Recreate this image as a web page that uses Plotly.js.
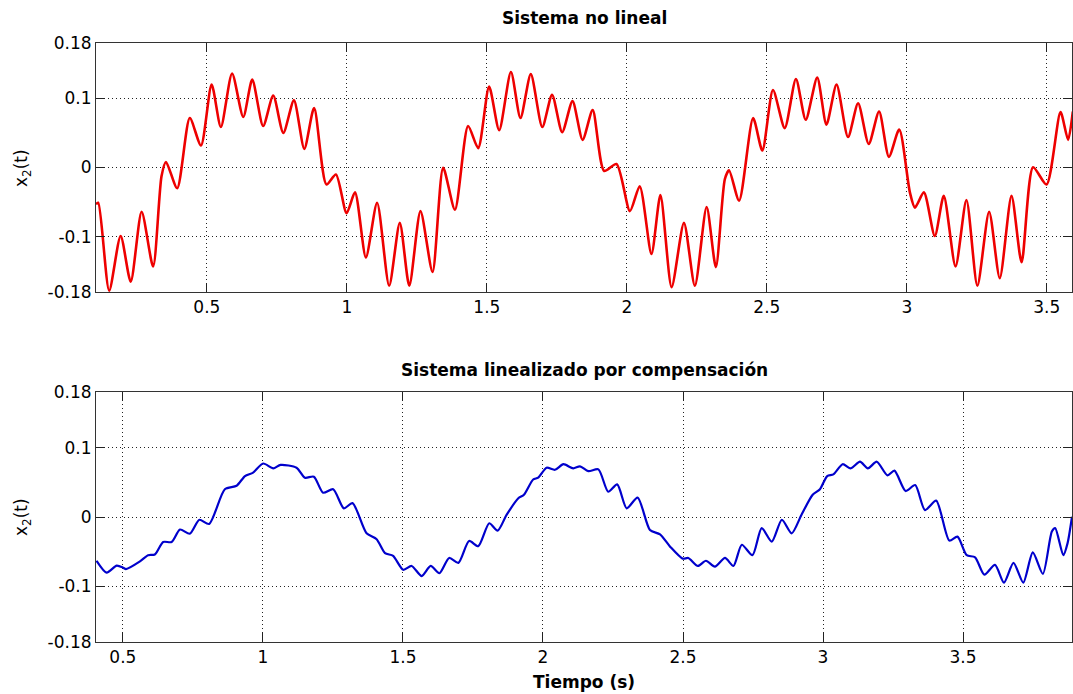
<!DOCTYPE html>
<html>
<head>
<meta charset="utf-8">
<script src="https://cdn.plot.ly/plotly-3.0.1.min.js"></script>
<style>html,body{margin:0;padding:0;background:#fff;}#chart{width:1073px;height:694px;}</style>
</head>
<body>
<div id="chart"></div>
<script>
// Top subplot: nonlinear system (red)
var t1 = [0.104,0.112,0.151,0.192,0.228,0.267,0.308,0.338,0.354,0.394,0.439,0.479,0.517,0.550,0.590,0.630,0.662,0.701,0.737,0.773,0.811,0.848,0.883,0.927,0.961,0.999,1.029,1.068,1.108,1.151,1.189,1.223,1.263,1.306,1.344,1.386,1.433,1.469,1.508,1.544,1.586,1.620,1.657,1.698,1.733,1.769,1.806,1.842,1.878,1.919,1.963,2.011,2.046,2.088,2.120,2.160,2.204,2.243,2.285,2.318,2.350,2.365,2.401,2.451,2.484,2.522,2.564,2.604,2.639,2.680,2.713,2.749,2.790,2.826,2.864,2.901,2.936,2.973,3.011,3.029,3.061,3.100,3.132,3.174,3.213,3.252,3.294,3.332,3.374,3.410,3.451,3.499,3.549,3.576,3.593];
var v1 = [-0.053,-0.051,-0.178,-0.099,-0.165,-0.064,-0.143,-0.0125,0.008,-0.030,0.0715,0.0317,0.120,0.0585,0.136,0.073,0.127,0.060,0.104,0.050,0.097,0.027,0.086,-0.0245,-0.010,-0.066,-0.036,-0.130,-0.051,-0.171,-0.080,-0.171,-0.063,-0.151,-0.0005,-0.061,0.060,0.028,0.117,0.054,0.138,0.0715,0.135,0.0585,0.105,0.051,0.096,0.040,0.083,-0.005,0.005,-0.063,-0.027,-0.125,-0.040,-0.173,-0.080,-0.171,-0.057,-0.144,-0.017,-0.004,-0.048,0.0715,0.0245,0.112,0.057,0.128,0.069,0.130,0.062,0.120,0.044,0.093,0.034,0.081,0.0153,0.055,-0.036,-0.058,-0.036,-0.099,-0.041,-0.143,-0.047,-0.171,-0.064,-0.160,-0.041,-0.137,0.0004,-0.0245,0.080,0.040,0.081];

// Bottom subplot: linearised system (blue)
var t2 = [0.406,0.442,0.478,0.501,0.511,0.561,0.590,0.614,0.644,0.674,0.704,0.739,0.773,0.808,0.864,0.906,0.936,0.965,1.001,1.037,1.063,1.120,1.150,1.182,1.215,1.251,1.289,1.320,1.370,1.406,1.436,1.465,1.501,1.531,1.567,1.599,1.630,1.665,1.698,1.736,1.769,1.808,1.838,1.870,1.912,1.932,1.965,1.983,2.013,2.043,2.073,2.108,2.132,2.162,2.198,2.233,2.265,2.299,2.338,2.382,2.418,2.454,2.499,2.519,2.553,2.582,2.614,2.650,2.680,2.710,2.748,2.781,2.817,2.853,2.888,2.924,2.963,2.989,3.015,3.037,3.070,3.099,3.132,3.160,3.192,3.230,3.255,3.295,3.329,3.364,3.404,3.451,3.480,3.513,3.543,3.576,3.614,3.646,3.680,3.715,3.749,3.785,3.817,3.829,3.858,3.873,3.889];
var v2 = [-0.063,-0.080,-0.070,-0.073,-0.075,-0.064,-0.055,-0.054,-0.036,-0.036,-0.018,-0.024,-0.004,-0.010,0.040,0.045,0.059,0.064,0.077,0.070,0.075,0.071,0.0566,0.058,0.035,0.040,0.0125,0.020,-0.0235,-0.032,-0.052,-0.056,-0.076,-0.0705,-0.085,-0.0705,-0.081,-0.059,-0.066,-0.0345,-0.042,-0.009,-0.0197,0.003,0.027,0.032,0.054,0.0566,0.071,0.068,0.076,0.070,0.073,0.066,0.0686,0.0364,0.047,0.0125,0.028,-0.0187,-0.025,-0.0427,-0.060,-0.059,-0.0705,-0.063,-0.0715,-0.059,-0.0705,-0.040,-0.055,-0.016,-0.0355,-0.004,-0.0235,0.004,0.032,0.040,0.059,0.0614,0.076,0.070,0.0796,0.070,0.0796,0.060,0.0667,0.0374,0.046,0.010,0.0235,-0.034,-0.0283,-0.055,-0.058,-0.083,-0.069,-0.0945,-0.066,-0.0945,-0.051,-0.082,-0.021,-0.016,-0.055,-0.038,0.0004];

var yTickVals = [-0.18,-0.1,0,0.1,0.18];
var yTickText = ['-0.18','-0.1','0','0.1','0.18'];
var xTickVals = [0.5,1,1.5,2,2.5,3,3.5];
var xTickText = ['0.5','1','1.5','2','2.5','3','3.5'];

var title1 = 'Sistema no lineal';
var title2 = 'Sistema linealizado por compensación';
var xLabel = 'Tiempo (s)';
var yLabel = 'x<sub>2</sub>(t)';

var H = 694;
function py(p){ return 1 - p / H; }

var FONT = 'DejaVu Sans, Verdana, sans-serif';

var traces = [
  {x: t1, y: v1, type: 'scatter', mode: 'lines', xaxis: 'x', yaxis: 'y',
   line: {color: '#ee0000', width: 2.6, shape: 'spline', smoothing: 0.7}, hoverinfo: 'skip'},
  {x: t2, y: v2, type: 'scatter', mode: 'lines', xaxis: 'x2', yaxis: 'y2',
   line: {color: '#0000cc', width: 2.2, shape: 'spline', smoothing: 0.7}, hoverinfo: 'skip'}
];

function xax(range, dom) {
  return {
    range: range, anchor: dom, tickvals: xTickVals, ticktext: xTickText,
    ticks: 'inside', ticklen: 9, tickwidth: 1, tickcolor: '#222',
    showline: true, linecolor: '#333', linewidth: 1, mirror: 'ticks',
    showgrid: true, gridcolor: '#222', griddash: '1px,3px', gridwidth: 1,
    zeroline: false, tickfont: {family: FONT, size: 17, color: '#000'}
  };
}
function yax(dom, anchor) {
  return {
    range: [-0.18, 0.18], domain: dom, anchor: anchor,
    tickvals: yTickVals, ticktext: yTickText,
    ticks: 'inside', ticklen: 9, tickwidth: 1, tickcolor: '#222',
    showline: true, linecolor: '#333', linewidth: 1, mirror: 'ticks',
    showgrid: true, gridcolor: '#222', griddash: '1px,3px', gridwidth: 1,
    zeroline: false, tickfont: {family: FONT, size: 17, color: '#000'}
  };
}

var xa1 = xax([0.104, 3.59], 'y'); xa1.domain = [0, 1];
var xa2 = xax([0.404, 3.889], 'y2'); xa2.domain = [0, 1];

var layout = {
  width: 1073, height: 694,
  margin: {l: 96, r: 1, t: 0, b: 0},
  paper_bgcolor: '#fff', plot_bgcolor: '#fff',
  showlegend: false,
  xaxis: xa1,
  yaxis: yax([py(292), py(43)], 'x'),
  xaxis2: xa2,
  yaxis2: yax([py(642), py(392)], 'x2'),
  annotations: [
    {text: title1, xref: 'paper', yref: 'paper', x: 0.5, y: py(18), showarrow: false,
     xanchor: 'center', yanchor: 'middle', font: {family: FONT, size: 17, color: '#000', weight: 'bold'}},
    {text: title2, xref: 'paper', yref: 'paper', x: 0.5, y: py(370), showarrow: false,
     xanchor: 'center', yanchor: 'middle', font: {family: FONT, size: 17, color: '#000', weight: 'bold'}},
    {text: xLabel, xref: 'paper', yref: 'paper', x: 0.5, y: py(682), showarrow: false,
     xanchor: 'center', yanchor: 'middle', font: {family: FONT, size: 17, color: '#000', weight: 'bold'}},
    {text: yLabel, xref: 'paper', yref: 'paper', x: (22 - 96) / 976, y: py(168), showarrow: false,
     textangle: -90, xanchor: 'center', yanchor: 'middle', font: {family: FONT, size: 17, color: '#000'}},
    {text: yLabel, xref: 'paper', yref: 'paper', x: (22 - 96) / 976, y: py(517), showarrow: false,
     textangle: -90, xanchor: 'center', yanchor: 'middle', font: {family: FONT, size: 17, color: '#000'}}
  ]
};

Plotly.newPlot('chart', traces, layout, {displayModeBar: false, staticPlot: true});
</script>
</body>
</html>
